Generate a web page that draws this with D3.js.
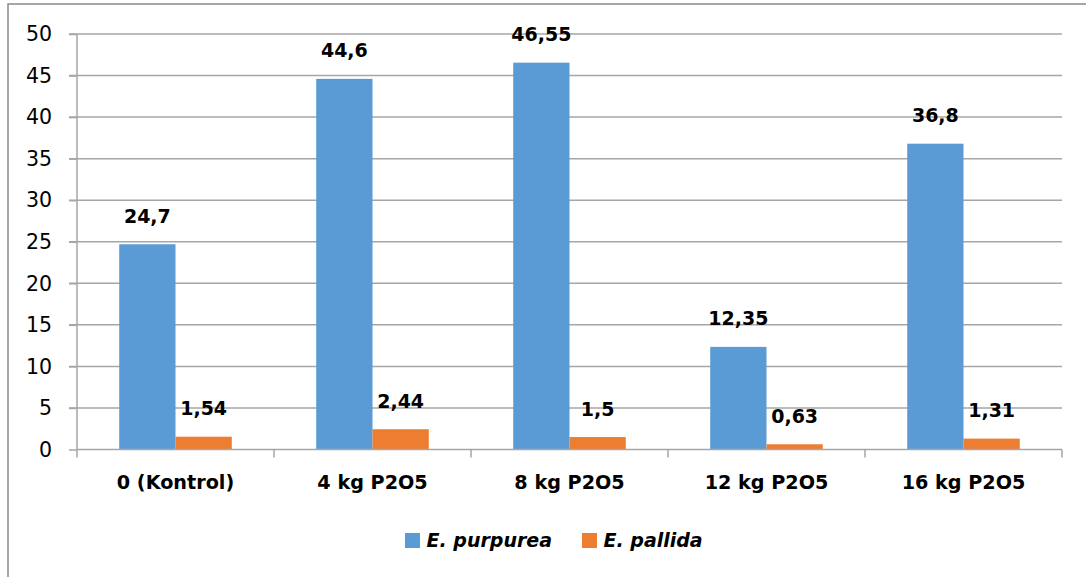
<!DOCTYPE html>
<html><head><meta charset="utf-8">
<script src="https://cdn.jsdelivr.net/npm/d3@7/dist/d3.min.js"></script>
<style>body{margin:0;background:#fff;} svg{display:block;}</style>
</head><body>
<svg id="c" width="1086" height="577"></svg>
<script>
const categories = ["0 (Kontrol)", "4 kg P2O5", "8 kg P2O5", "12 kg P2O5", "16 kg P2O5"];
const seriesNames = ["E. purpurea", "E. pallida"];
const purpurea = [24.7, 44.6, 46.55, 12.35, 36.8];
const pallida = [1.54, 2.44, 1.5, 0.63, 1.31];
const valueLabels = [["24,7","44,6","46,55","12,35","36,8"],["1,54","2,44","1,5","0,63","1,31"]];
const yTicks = [0,5,10,15,20,25,30,35,40,45,50];
const colors = ["#5B9BD5", "#ED7D31"];

(function(){
const svg = d3.select("#c");
const font = "'DejaVu Sans', sans-serif";
const pLeft = 77, pRight = 1062, pTop = 34, pBottom = 449.5;

svg.append("rect").attr("x",8).attr("y",4).attr("width",1200).attr("height",700)
  .attr("fill","none").attr("stroke","#8a8a8a").attr("stroke-width",1.5);

const x = d3.scaleBand().domain(categories).range([pLeft,pRight]).paddingInner(0).paddingOuter(0);
const x1 = d3.scaleBand().domain([0,1]).range([0,x.bandwidth()]).paddingInner(0).paddingOuter(0.75);
const y = d3.scaleLinear().domain([0,50]).range([pBottom,pTop]);

svg.append("g").selectAll("line").data(yTicks.filter(d=>d>0)).join("line")
  .attr("x1",69).attr("x2",pRight).attr("y1",d=>y(d)).attr("y2",d=>y(d))
  .attr("stroke","#a6a6a6").attr("stroke-width",1.5);

const ya = svg.append("g").attr("transform",`translate(${pLeft},0)`)
  .call(d3.axisLeft(y).tickValues(yTicks).tickSize(8).tickPadding(17).tickFormat(d3.format("d")));
ya.select(".domain").attr("stroke","#a6a6a6").attr("stroke-width",1.5).attr("d",`M0,${pTop}V${pBottom}`);
ya.selectAll(".tick line").attr("stroke","#a6a6a6").attr("stroke-width",1.5);
ya.selectAll(".tick text").attr("font-family",font).attr("font-size",20.5).attr("fill","#000")
  .attr("dy","0.33em");

const series = [purpurea, pallida];
series.forEach((vals,si)=>{
  svg.append("g").selectAll("rect").data(vals).join("rect")
    .attr("x",(d,i)=>x(categories[i])+x1(si))
    .attr("width",x1.bandwidth())
    .attr("y",d=>y(d)).attr("height",d=>pBottom-y(d))
    .attr("fill",colors[si]);
  svg.append("g").selectAll("text").data(vals).join("text")
    .attr("x",(d,i)=>x(categories[i])+x1(si)+x1.bandwidth()/2)
    .attr("y",d=>y(d)-21.5)
    .attr("text-anchor","middle").attr("font-family",font).attr("font-weight","bold")
    .attr("font-size",19).attr("fill","#000")
    .text((d,i)=>valueLabels[si][i]);
});

const xa = svg.append("g").attr("transform",`translate(0,${pBottom})`)
  .call(d3.axisBottom(x).tickSize(0).tickPadding(0));
xa.select(".domain").attr("stroke","#a6a6a6").attr("stroke-width",1.5).attr("d",`M${pLeft},0H${pRight}`);
xa.selectAll(".tick text").attr("font-family",font).attr("font-weight","bold").attr("font-size",19.2)
  .attr("fill","#000").attr("y",39).attr("dy",0);
svg.append("g").selectAll("line").data(categories.concat([null])).join("line")
  .attr("x1",(d,i)=>pLeft+i*x.bandwidth()).attr("x2",(d,i)=>pLeft+i*x.bandwidth())
  .attr("y1",pBottom).attr("y2",pBottom+8).attr("stroke","#a6a6a6").attr("stroke-width",1.5);

const legX = [405, 582];
seriesNames.forEach((n,i)=>{
  svg.append("rect").attr("x",legX[i]).attr("y",533).attr("width",15).attr("height",15).attr("fill",colors[i]);
  svg.append("text").attr("x",legX[i]+21.5).attr("y",547).attr("font-family",font)
    .attr("font-weight","bold").attr("font-style","italic").attr("font-size",19).attr("fill","#000").text(n);
});
})();
</script>
</body></html>
